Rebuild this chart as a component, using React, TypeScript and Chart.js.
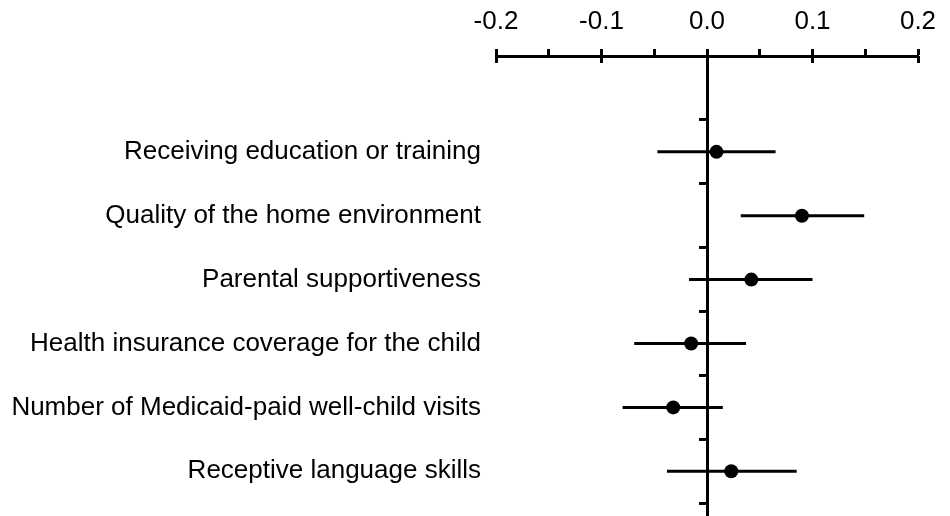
import { useEffect, useRef } from "react";
import { Chart, registerables } from "chart.js";

Chart.register(...registerables);

const categories = [
  "Receiving education or training",
  "Quality of the home environment",
  "Parental supportiveness",
  "Health insurance coverage for the child",
  "Number of Medicaid-paid well-child visits",
  "Receptive language skills",
];
const estimates = [0.009, 0.09, 0.042, -0.015, -0.032, 0.023];
const lowerCI = [-0.047, 0.032, -0.017, -0.069, -0.080, -0.038];
const upperCI = [0.065, 0.149, 0.1, 0.037, 0.015, 0.085];

const majorTicks = [-0.2, -0.1, 0.0, 0.1, 0.2];
const minorTicks = [-0.15, -0.05, 0.05, 0.15];
const xMin = -0.2;
const xMax = 0.2;
const yMin = -1.5;
const yMax = 5.7;

export default function App() {
  const ref = useRef<HTMLCanvasElement>(null);

  useEffect(() => {
    const FONT = { family: "'Liberation Sans', Arial, sans-serif", size: 26 };
    const tickGrid = {
      display: true,
      drawOnChartArea: false,
      drawTicks: true,
      tickLength: 7,
      tickWidth: 3,
      tickColor: "#000",
    };

    const pointsDs: any = {
      type: "scatter",
      label: "Estimate",
      data: estimates.map((v, i) => ({ x: v, y: i })),
      backgroundColor: "#000",
      borderColor: "#000",
      borderWidth: 0,
      pointRadius: 7,
      pointHoverRadius: 7,
      showLine: false,
      xAxisID: "x",
      yAxisID: "y",
    };
    const barDs: any[] = categories.map((c, i) => ({
      type: "line",
      label: c,
      data: [
        { x: lowerCI[i], y: i },
        { x: upperCI[i], y: i },
      ],
      borderColor: "#000",
      backgroundColor: "#000",
      borderWidth: 3,
      pointRadius: 0,
      pointHoverRadius: 0,
      showLine: true,
      fill: false,
      tension: 0,
      borderCapStyle: "butt",
      xAxisID: "x",
      yAxisID: "y",
    }));

    const chart = new Chart(ref.current as HTMLCanvasElement, {
      type: "scatter",
      data: { datasets: [pointsDs, ...barDs] },
      options: {
        animation: false,
        responsive: false,
        devicePixelRatio: 1,
        events: [],
        layout: { autoPadding: false, padding: { left: 0, right: 32, top: 0, bottom: 0 } },
        plugins: { legend: { display: false }, tooltip: { enabled: false } },
        scales: {
          x: {
            type: "linear",
            axis: "x",
            position: "top",
            min: xMin,
            max: xMax,
            afterBuildTicks: (s: any) => {
              s.ticks = [...majorTicks, ...minorTicks]
                .sort((a, b) => a - b)
                .map((v) => ({ value: v }));
            },
            afterFit: (s: any) => {
              s.height = 56;
            },
            ticks: {
              autoSkip: false,
              maxRotation: 0,
              minRotation: 0,
              padding: 12,
              color: "#000",
              font: FONT,
              callback: (v: any) =>
                majorTicks.some((m) => Math.abs(m - Number(v)) < 1e-9)
                  ? Number(v).toFixed(1)
                  : "",
            },
            grid: tickGrid,
            border: { display: true, width: 3, color: "#000" },
          },
          x2: {
            type: "linear",
            axis: "x",
            position: { y: yMin },
            min: xMin,
            max: xMax,
            afterBuildTicks: (s: any) => {
              s.ticks = majorTicks.map((v) => ({ value: v }));
            },
            afterFit: (s: any) => {
              s.height = 0;
            },
            ticks: { display: false },
            grid: tickGrid,
            border: { display: false },
          },
          y: {
            type: "linear",
            axis: "y",
            position: "left",
            reverse: true,
            min: yMin,
            max: yMax,
            afterBuildTicks: (s: any) => {
              s.ticks = categories.map((_, i) => ({ value: i }));
            },
            afterFit: (s: any) => {
              s.width = 496;
              s.paddingTop = 0;
              s.paddingBottom = 0;
            },
            ticks: {
              autoSkip: false,
              padding: 15,
              color: "#000",
              font: FONT,
              callback: (v: any) => categories[Math.round(Number(v))] ?? "",
            },
            grid: { display: false, drawTicks: false },
            border: { display: false },
          },
          y2: {
            type: "linear",
            axis: "y",
            position: { x: 0 },
            reverse: true,
            min: yMin,
            max: yMax,
            afterBuildTicks: (s: any) => {
              s.ticks = [...categories.map((_, i) => i - 0.5), categories.length - 0.5].map(
                (v) => ({ value: v })
              );
            },
            afterFit: (s: any) => {
              s.width = 0;
              s.paddingTop = 0;
              s.paddingBottom = 0;
            },
            ticks: { display: false },
            grid: tickGrid,
            border: { display: true, width: 3, color: "#000" },
          },
        },
      } as any,
    });
    return () => chart.destroy();
  }, []);

  return (
    <div style={{ position: "absolute", left: 0, top: 0, width: 950, height: 516, background: "#fff" }}>
      <canvas ref={ref} width={950} height={516} style={{ display: "block" }} />
    </div>
  );
}
